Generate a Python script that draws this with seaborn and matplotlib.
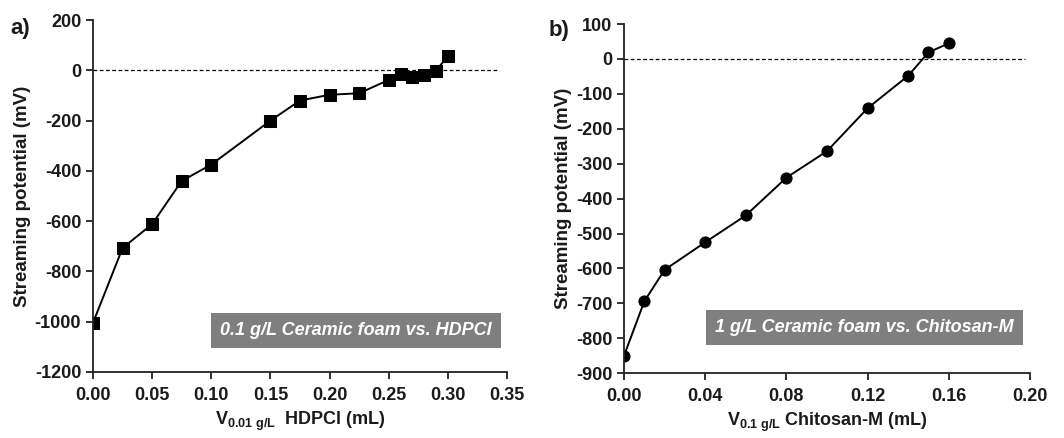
import numpy as np
import matplotlib
matplotlib.use("Agg")
import matplotlib.pyplot as plt
import seaborn as sns

# Data
# a) 0.1 g/L ceramic foam titrated with HDPCl
vol_hdpcl = [0.0, 0.025, 0.05, 0.075, 0.10, 0.15, 0.175, 0.20, 0.225, 0.25, 0.26, 0.27, 0.28, 0.29, 0.30]
sp_hdpcl = [-1005, -707, -612, -440, -375, -200, -120, -97, -91, -38, -15, -25, -20, -1, 57]

# b) 1 g/L ceramic foam titrated with Chitosan-M
vol_chit = [0.0, 0.01, 0.02, 0.04, 0.06, 0.08, 0.10, 0.12, 0.14, 0.15, 0.16]
sp_chit = [-850, -694, -604, -525, -448, -340, -264, -141, -48, 19, 45]

sns.set_style("ticks")
plt.rcParams['font.family'] = ['Liberation Sans', 'DejaVu Sans']
plt.rcParams['font.weight'] = 'bold'
plt.rcParams['axes.unicode_minus'] = False
plt.rcParams['mathtext.fontset'] = 'custom'
plt.rcParams['mathtext.rm'] = 'Liberation Sans:bold'
plt.rcParams['mathtext.it'] = 'Liberation Sans:bold:italic'
plt.rcParams['mathtext.bf'] = 'Liberation Sans:bold'

fig = plt.figure(figsize=(10.64, 4.38), dpi=100)
ax1 = fig.add_axes([0.0874, 0.151, 0.3891, 0.803])
ax2 = fig.add_axes([0.5865, 0.148, 0.3815, 0.797])

fs = 13
txt = '#1a1a1a'


def style_axis(ax, xt, yt, xfmt):
    for s in ['top', 'right']:
        ax.spines[s].set_visible(False)
    for s in ['left', 'bottom']:
        ax.spines[s].set_linewidth(1.3)
        ax.spines[s].set_color('#222222')
    ax.set_xticks(xt)
    ax.set_xticklabels([xfmt.format(v) for v in xt], fontsize=fs, fontweight='bold')
    ax.set_yticks(yt)
    ax.set_yticklabels([f"{v:d}" for v in yt], fontsize=fs, fontweight='bold')
    ax.tick_params(axis='both', direction='out', length=5, width=1.3, colors='#222222',
                   labelcolor=txt)
    ax.tick_params(axis='x', pad=6)


# panel a
sns.lineplot(x=vol_hdpcl, y=sp_hdpcl, ax=ax1, color='black', marker='s',
             markersize=8, markeredgecolor='black', linewidth=1.4, sort=False)
ax1.axhline(0, xmin=0, xmax=0.98, color='black', linestyle=(0, (3, 2)), linewidth=0.9)
ax1.set_xlim(0, 0.35)
ax1.set_ylim(-1200, 200)
style_axis(ax1, np.round(np.arange(0, 0.351, 0.05), 2), list(range(-1200, 201, 200)), "{:.2f}")
ax1.set_xlabel(r"V$_{\rm 0.01\ g/L}$  HDPCl (mL)", fontsize=fs, fontweight='bold',
               labelpad=4, color=txt)
ax1.set_ylabel("Streaming potential (mV)", fontsize=13.5, fontweight='bold',
               labelpad=3, color=txt)
ax1.text(0.635, 0.118, "0.1 g/L Ceramic foam vs. HDPCl", transform=ax1.transAxes,
         ha='center', va='center', color='white', fontsize=fs, fontweight='bold',
         fontstyle='italic',
         bbox=dict(boxstyle='square,pad=0.5', facecolor='#7f7f7f', edgecolor='none'))
fig.text(0.01, 0.935, "a)", fontsize=16, fontweight='bold', va='center', color=txt)

# panel b
sns.lineplot(x=vol_chit, y=sp_chit, ax=ax2, color='black', marker='o',
             markersize=8, markeredgecolor='black', linewidth=1.4, sort=False)
ax2.axhline(0, xmin=0, xmax=0.988, color='black', linestyle=(0, (3, 2)), linewidth=0.9)
ax2.set_xlim(0, 0.20)
ax2.set_ylim(-900, 100)
style_axis(ax2, np.round(np.arange(0, 0.201, 0.04), 2), list(range(-900, 101, 100)), "{:.2f}")
ax2.set_xlabel(r"V$_{\rm 0.1\ g/L}$ Chitosan-M (mL)", fontsize=fs, fontweight='bold',
               labelpad=4, color=txt)
ax2.set_ylabel("Streaming potential (mV)", fontsize=13.5, fontweight='bold',
               labelpad=3, color=txt)
ax2.text(0.592, 0.132, "1 g/L Ceramic foam vs. Chitosan-M", transform=ax2.transAxes,
         ha='center', va='center', color='white', fontsize=fs, fontweight='bold',
         fontstyle='italic',
         bbox=dict(boxstyle='square,pad=0.5', facecolor='#7f7f7f', edgecolor='none'))
fig.text(0.516, 0.93, "b)", fontsize=16, fontweight='bold', va='center', color=txt)

fig.savefig("out.png", dpi=100)
